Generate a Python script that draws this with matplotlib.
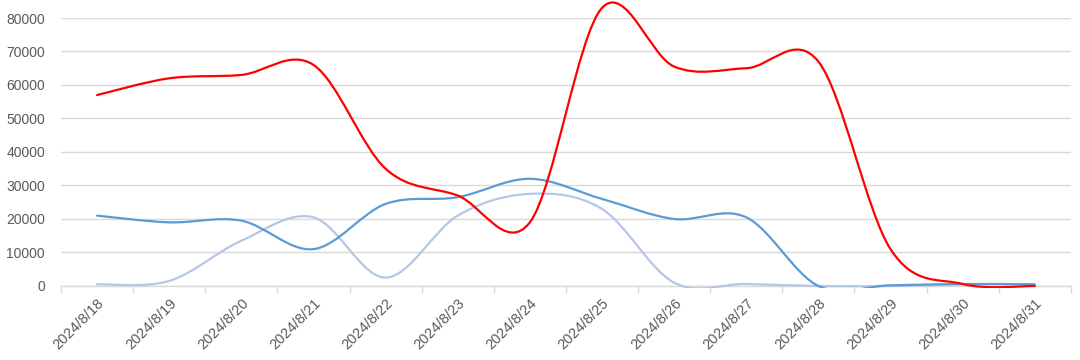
import matplotlib
matplotlib.use("Agg")
import matplotlib.pyplot as plt
import numpy as np
from matplotlib.path import Path
from matplotlib.patches import PathPatch, Rectangle

dates = ["2024/8/18", "2024/8/19", "2024/8/20", "2024/8/21", "2024/8/22", "2024/8/23",
         "2024/8/24", "2024/8/25", "2024/8/26", "2024/8/27", "2024/8/28", "2024/8/29",
         "2024/8/30", "2024/8/31"]
red_vals = [57000, 62000, 63000, 66000, 35000, 27000, 19000, 83000, 65500, 65000, 67000,
            11000, 600, 0]
blue_vals = [21000, 19000, 19500, 11000, 24500, 26500, 32000, 26000, 20000, 20500, 0,
             200, 600, 500]
light_vals = [500, 1500, 13500, 20500, 2500, 21000, 27500, 23000, 1000, 600, 0,
              0, 500, 500]


def smooth_path(y):
    # Excel-style smoothed line: cubic Bezier through the points (Catmull-Rom, 1/6)
    x = np.arange(len(y), dtype=float)
    y = np.asarray(y, dtype=float)
    pts = np.column_stack([x, y])
    n = len(pts)
    verts = [pts[0]]
    codes = [Path.MOVETO]
    for i in range(n - 1):
        p0 = pts[max(i - 1, 0)]
        p1 = pts[i]
        p2 = pts[i + 1]
        p3 = pts[min(i + 2, n - 1)]
        c1 = p1 + (p2 - p0) / 6.0
        c2 = p2 - (p3 - p1) / 6.0
        verts += [c1, c2, p2]
        codes += [Path.CURVE4] * 3
    return Path(verts, codes)


plt.rcParams["font.family"] = ["Liberation Sans", "DejaVu Sans"]
fig = plt.figure(figsize=(10.8, 3.6), dpi=100)
ax = fig.add_axes([0.0565, 0.2056, 0.935, 0.7444])

# clip lines at the axis floor, let them run over the top like the original
clip = Rectangle((-0.02, -0.006), 1.04, 1.2, transform=ax.transAxes, visible=False)
ax.add_patch(clip)
for vals, col in [(light_vals, "#B4C7E7"), (blue_vals, "#5B9BD5"), (red_vals, "#FF0000")]:
    p = ax.add_patch(PathPatch(smooth_path(vals), fill=False, edgecolor=col, lw=1.6,
                               capstyle="round", joinstyle="round", zorder=3))
    p.set_clip_path(clip)

ax.set_xlim(-0.5, len(dates) - 0.5)
ax.set_ylim(0, 80000)
ax.set_yticks(np.arange(0, 80001, 10000))
ax.yaxis.grid(True, color="#D9D9D9", lw=1.0)
ax.set_axisbelow(True)
for s in ["top", "right", "left"]:
    ax.spines[s].set_visible(False)
ax.spines["bottom"].set_color("#D9D9D9")
ax.spines["bottom"].set_linewidth(1.0)

ax.set_xticks(np.arange(len(dates)))
ax.set_xticklabels(dates, rotation=45, ha="right", rotation_mode="anchor")
ax.set_xticks(np.arange(len(dates) + 1) - 0.5, minor=True)
ax.tick_params(axis="x", which="major", length=0, pad=7, labelsize=10.5, labelcolor="#595959")
ax.tick_params(axis="x", which="minor", length=5, color="#D9D9D9", width=1.0)
ax.tick_params(axis="y", length=0, pad=11.5, labelsize=10, labelcolor="#595959")

fig.savefig("out.png", dpi=100)
